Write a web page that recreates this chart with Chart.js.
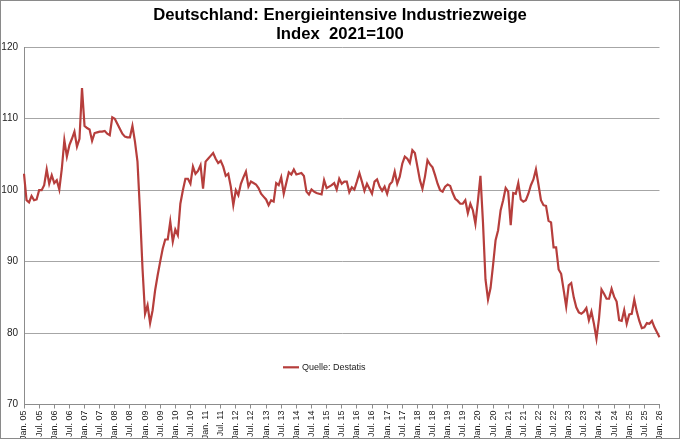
<!DOCTYPE html>
<html>
<head>
<meta charset="utf-8">
<script src="https://cdn.jsdelivr.net/npm/chart.js@4.4.1/dist/chart.umd.min.js"></script>
<style>
  html, body { margin: 0; padding: 0; background: #ffffff; }
  #wrap { position: relative; width: 680px; height: 439px; }
  canvas { display: block; }
</style>
</head>
<body>
<div id="wrap"><canvas id="c" width="680" height="439"></canvas></div>
<script>
// ---- data ----
const chartTitle = ["Deutschland: Energieintensive Industriezweige", "Index  2021=100"];
const seriesLabel = "Quelle: Destatis";
const monthNames = ["Jan.", "Feb.", "Mrz.", "Apr.", "Mai", "Jun.", "Jul.", "Aug.", "Sep.", "Okt.", "Nov.", "Dez."];
const years = [2005, 2006, 2007, 2008, 2009, 2010, 2011, 2012, 2013, 2014, 2015, 2016, 2017, 2018, 2019, 2020, 2021, 2022, 2023, 2024, 2025, 2026];
const yTicks = [70, 80, 90, 100, 110, 120];

const v2005 = [102.3, 98.6, 98.3, 99.2, 98.6, 98.7, 100.0, 100.0, 100.7, 102.9, 100.9, 102.1];
const v2006 = [101.0, 101.4, 100.1, 103.0, 107.0, 104.7, 106.3, 107.2, 108.2, 106.1, 107.2, 114.3];
const v2007 = [109.0, 108.7, 108.5, 106.9, 108.0, 108.1, 108.2, 108.2, 108.3, 107.9, 107.7, 110.2];
const v2008 = [110.0, 109.3, 108.6, 107.9, 107.5, 107.4, 107.4, 109.0, 106.8, 104.0, 97.0, 89.0];
const v2009 = [82.7, 83.9, 81.4, 83.2, 86.0, 88.1, 90.0, 91.8, 93.1, 93.1, 95.6, 92.8];
const v2010 = [94.5, 93.7, 98.1, 100.0, 101.6, 101.6, 100.9, 103.3, 102.3, 102.7, 103.5, 100.2];
const v2011 = [104.0, 104.4, 104.8, 105.2, 104.4, 103.8, 104.1, 103.3, 102.0, 102.3, 100.5, 97.9];
const v2012 = [100.0, 99.3, 100.9, 101.8, 102.6, 100.5, 101.2, 101.0, 100.8, 100.3, 99.5, 99.1];
const v2013 = [98.7, 97.9, 98.6, 98.4, 101.0, 100.7, 101.8, 99.5, 101.0, 102.5, 102.2, 102.9];
const v2014 = [102.2, 102.3, 102.4, 102.0, 99.8, 99.4, 100.1, 99.8, 99.6, 99.5, 99.4, 101.4];
const v2015 = [100.3, 100.5, 100.7, 101.0, 100.1, 101.6, 100.9, 101.2, 101.2, 99.7, 100.4, 100.1];
const v2016 = [101.2, 102.4, 101.2, 99.9, 100.9, 100.2, 99.5, 101.2, 101.5, 100.5, 99.9, 100.5];
const v2017 = [99.5, 100.8, 101.2, 102.6, 100.9, 101.9, 103.7, 104.7, 104.4, 103.8, 105.6, 105.2];
const v2018 = [103.3, 101.4, 100.2, 101.9, 104.2, 103.6, 103.2, 102.1, 100.9, 100.0, 99.8, 100.5];
const v2019 = [100.8, 100.6, 99.6, 98.8, 98.5, 98.1, 98.1, 98.6, 96.8, 98.1, 97.2, 95.3];
const v2020 = [98.5, 102.0, 95.5, 87.5, 84.7, 86.3, 89.5, 93.0, 94.4, 97.2, 98.6, 100.3];
const v2021 = [99.8, 95.1, 99.6, 99.5, 101.0, 98.7, 98.4, 98.6, 99.5, 100.7, 101.5, 102.9];
const v2022 = [100.8, 98.6, 97.9, 97.8, 95.7, 95.5, 92.0, 92.0, 88.9, 88.3, 86.0, 83.7];
const v2023 = [86.7, 87.0, 85.0, 83.6, 82.9, 82.7, 83.0, 83.5, 81.8, 83.0, 81.3, 79.2];
const v2024 = [82.0, 86.1, 85.5, 84.8, 84.8, 86.2, 85.1, 84.4, 81.8, 81.7, 83.2, 81.3];
const v2025 = [82.6, 82.7, 84.7, 83.0, 81.7, 80.7, 80.8, 81.4, 81.3, 81.7, 80.8, 80.1];
const v2026 = [79.4];

const yearValues = [v2005, v2006, v2007, v2008, v2009, v2010, v2011, v2012, v2013, v2014, v2015,
                    v2016, v2017, v2018, v2019, v2020, v2021, v2022, v2023, v2024, v2025, v2026];

// ---- build category labels and values ----
const labels = [];
const values = [];
years.forEach((yr, i) => {
  yearValues[i].forEach((v, m) => {
    labels.push(monthNames[m] + " " + String(yr).slice(2));
    values.push(v);
  });
});

const FONT = "'Liberation Sans', Arial, sans-serif";

const frameAndLegend = {
  id: 'frameAndLegend',
  afterDraw(chart) {
    const ctx = chart.ctx;
    const ds = chart.data.datasets[0];
    const ca = chart.chartArea;
    ctx.save();
    // outer chart frame
    ctx.strokeStyle = '#8a8a8a';
    ctx.lineWidth = 1;
    ctx.strokeRect(0.5, 0.5, chart.width - 1, chart.height - 1);
    // legend inside plot area
    const lx = ca.left + 259, ly = ca.top + 320;
    ctx.strokeStyle = ds.borderColor;
    ctx.lineWidth = ds.borderWidth;
    ctx.beginPath();
    ctx.moveTo(lx, ly);
    ctx.lineTo(lx + 16, ly);
    ctx.stroke();
    ctx.fillStyle = '#222';
    ctx.font = "9px " + FONT;
    ctx.textBaseline = 'middle';
    ctx.textAlign = 'left';
    ctx.fillText(ds.label, lx + 19, ly);
    ctx.restore();
  }
};

new Chart(document.getElementById('c'), {
  type: 'line',
  data: {
    labels: labels,
    datasets: [{
      label: seriesLabel,
      data: values,
      yAxisID: 'y',
      borderColor: '#B63E3C',
      borderWidth: 2.2,
      pointRadius: 0,
      pointHoverRadius: 0,
      tension: 0,
      fill: false
    }]
  },
  options: {
    responsive: false,
    animation: false,
    devicePixelRatio: 1,
    layout: { padding: { left: 0, right: 0, top: 0, bottom: 0 } },
    plugins: {
      legend: { display: false },
      tooltip: { enabled: false },
      title: {
        display: true,
        text: chartTitle,
        color: '#000',
        font: { family: FONT, size: 16.7, weight: 'bold', lineHeight: 1.138 },
        padding: { top: 5.5, bottom: 3.8 }
      }
    },
    scales: {
      x: {
        type: 'category',
        offset: false,
        afterFit(scale) { scale.height = 34.5; },
        border: { display: true, color: '#8c8c8c', width: 1 },
        grid: {
          display: true,
          drawOnChartArea: false,
          drawTicks: true,
          tickLength: 4,
          tickColor: (c) => (c.index % 6 === 0 ? '#8c8c8c' : 'rgba(0,0,0,0)')
        },
        ticks: {
          autoSkip: false,
          minRotation: 90,
          maxRotation: 90,
          padding: 2,
          color: '#222',
          font: { family: FONT, size: 9 },
          callback: function (val, idx) {
            return idx % 6 === 0 ? this.getLabelForValue(val) : '';
          }
        }
      },
      y: {
        position: 'left',
        min: yTicks[0],
        max: yTicks[yTicks.length - 1],
        afterFit(scale) { scale.width = 24; },
        afterBuildTicks(scale) { scale.ticks = yTicks.map(v => ({ value: v })); },
        border: { display: true, color: '#8c8c8c', width: 1 },
        grid: { color: '#a6a6a6', lineWidth: 1, drawTicks: false },
        ticks: {
          padding: 6,
          color: '#222',
          font: { family: FONT, size: 10 }
        }
      },
      yRightGap: {
        type: 'linear',
        position: 'right',
        display: true,
        afterFit(scale) { scale.width = 20.5; },
        border: { display: false },
        grid: { display: false, drawOnChartArea: false },
        ticks: { display: false }
      }
    }
  },
  plugins: [frameAndLegend]
});
</script>
</body>
</html>
